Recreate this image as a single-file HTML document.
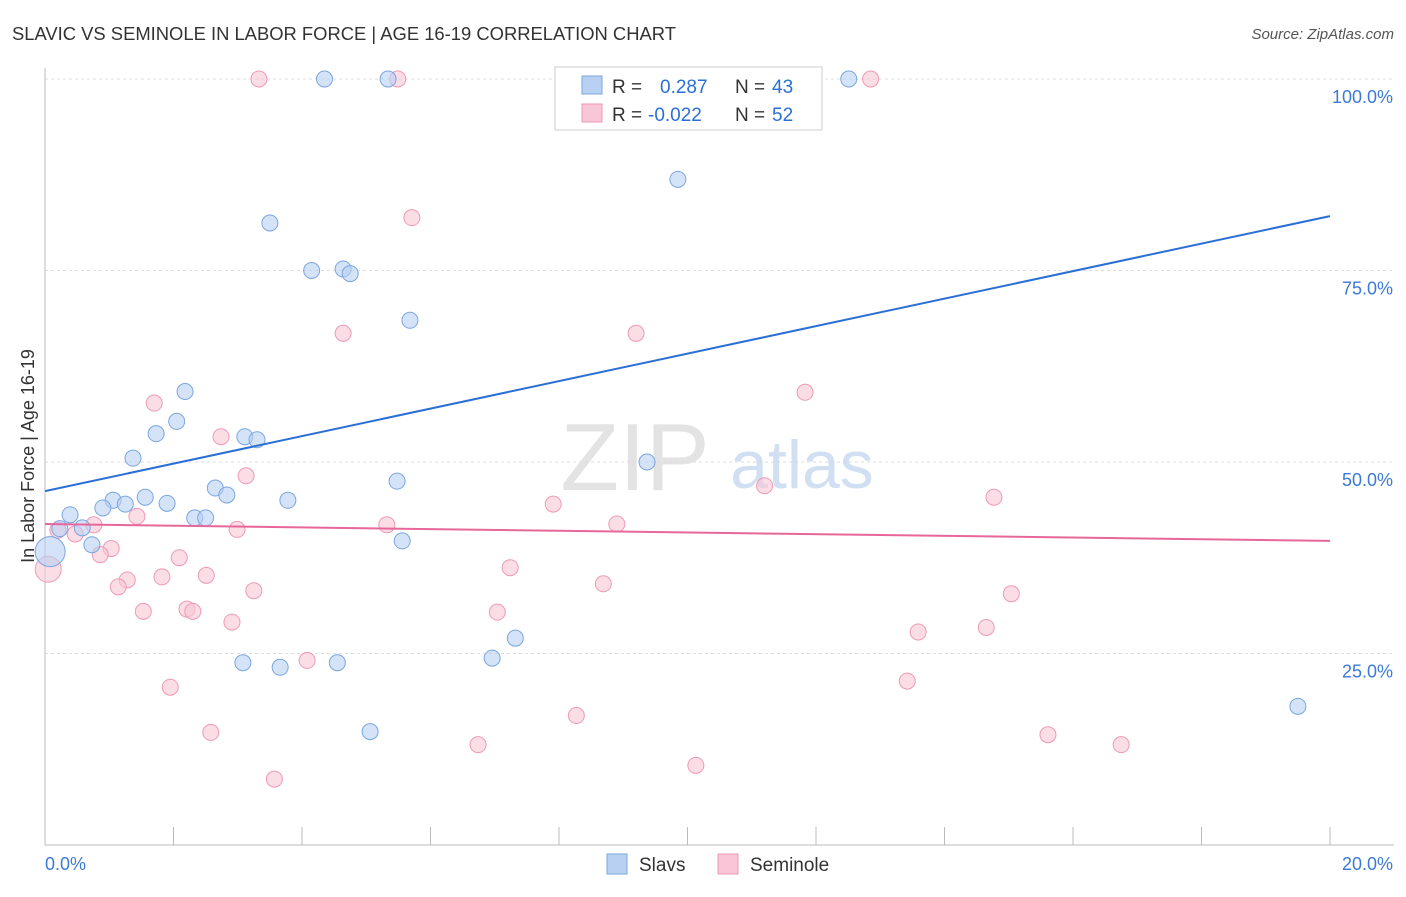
<!DOCTYPE html>
<html><head><meta charset="utf-8">
<style>
body{margin:0;background:#fff;font-family:"Liberation Sans",sans-serif;}
svg text{font-family:"Liberation Sans",sans-serif;}
</style></head>
<body>
<svg id="chart" width="1406" height="892" xmlns="http://www.w3.org/2000/svg">
<text x="12" y="40" font-size="18.4" fill="#333">SLAVIC VS SEMINOLE IN LABOR FORCE | AGE 16-19 CORRELATION CHART</text>
<text x="1394" y="39" font-size="15" fill="#555" text-anchor="end" font-style="italic">Source: ZipAtlas.com</text>
<text x="34" y="456" font-size="18" fill="#333" text-anchor="middle" transform="rotate(-90 34 456)">In Labor Force | Age 16-19</text>
<g id="grid"></g>
<g id="wm"><text x="635" y="490" font-size="96" fill="#ddd" text-anchor="middle" font-family="Liberation Serif" opacity="0.8">ZIP</text><text x="802" y="488" font-size="68" fill="#c5d8ef" text-anchor="middle" opacity="0.8">atlas</text></g>
<g id="marks"></g>
<g id="legend">
<rect x="555" y="67" width="267" height="63" fill="#fff" stroke="#ccc"/>
<rect x="582" y="76" width="20" height="18" fill="#b8d1f2" stroke="#7aa6e0"/>
<rect x="582" y="104" width="20" height="18" fill="#f8c6d6" stroke="#ee9ab6"/>
<text x="612" y="93" font-size="19" fill="#333">R = </text><text x="660" y="93" font-size="19" fill="#2a6fd6">0.287</text>
<text x="735" y="93" font-size="19" fill="#333">N = </text><text x="772" y="93" font-size="19" fill="#2a6fd6">43</text>
<text x="612" y="121" font-size="19" fill="#333">R = </text><text x="648" y="121" font-size="19" fill="#2a6fd6">-0.022</text>
<text x="735" y="121" font-size="19" fill="#333">N = </text><text x="772" y="121" font-size="19" fill="#2a6fd6">52</text>
</g>
<g>
<rect x="607" y="854" width="20" height="20" fill="#b8d1f2" stroke="#7aa6e0"/>
<text x="639" y="871" font-size="19" fill="#333">Slavs</text>
<rect x="718" y="854" width="20" height="20" fill="#f8c6d6" stroke="#ee9ab6"/>
<text x="750" y="871" font-size="19" fill="#333">Seminole</text>
</g>
</svg>
<script>
const yTicks=[25,50,75,100];
const yTickLabels=["25.0%","50.0%","75.0%","100.0%"];
const xTickLabels=["0.0%","20.0%"];
const slavX=[4.35,5.34,10.66,12.51,9.59,9.85,3.5,4.15,4.64,4.75,5.68,2.18,2.05,1.73,3.11,3.3,1.37,9.37,2.65,5.48,2.83,3.78,1.56,1.06,1.9,1.25,0.9,0.39,2.33,2.5,0.23,0.58,0.73,5.56,0.08,7.32,6.96,3.08,3.66,4.55,5.06,19.5];
const slavY=[100,100,100,100,100,86.9,81.2,75,75.2,74.6,68.5,59.2,55.3,53.7,53.3,52.9,50.5,50,46.6,47.5,45.7,45,45.4,45,44.6,44.5,44,43.1,42.7,42.7,41.3,41.4,39.2,39.7,38.3,27,24.4,23.8,23.2,23.8,14.8,18.1];
const semX=[3.33,5.49,12.85,5.71,4.64,9.2,11.83,1.7,2.74,3.13,11.2,7.91,14.77,1.43,0.76,0.2,0.47,5.32,8.9,2.99,1.03,0.86,2.09,1.28,1.82,2.51,1.14,8.69,3.25,7.24,15.04,1.53,2.21,2.3,7.04,2.91,13.59,14.65,4.08,1.95,13.42,8.27,2.58,15.61,6.74,16.75,10.13,3.57,0.05];
const semY=[100,100,100,81.9,66.8,66.8,59.1,57.7,53.3,48.2,46.9,44.5,45.4,42.9,41.8,41.1,40.6,41.8,41.9,41.2,38.7,37.9,37.5,34.6,35,35.2,33.7,34.1,33.2,36.2,32.8,30.5,30.8,30.5,30.4,29.1,27.8,28.4,24.1,20.6,21.4,16.9,14.7,14.4,13.1,13.1,10.4,8.6,36];
const slavBig=[0,0,0,0,0,0,0,0,0,0,0,0,0,0,0,0,0,0,0,0,0,0,0,0,0,0,0,0,0,0,0,0,0,0,1,0,0,0,0,0,0,0];
const slavTrend=[46.2,82.1];
const semTrend=[41.9,39.7];
const NS="http://www.w3.org/2000/svg";
const X0=45,X1=1330,Y0=845,Y100=79;
function xs(v){return X0+(X1-X0)*v/20;}
function ys(v){return Y0-(Y0-Y100)*v/100;}
const svg=document.getElementById('chart');
const grid=document.getElementById('grid');
const marks=document.getElementById('marks');
function mk(tag,attrs,parent){const e=document.createElementNS(NS,tag);for(const k in attrs)e.setAttribute(k,attrs[k]);parent.appendChild(e);return e;}
yTicks.forEach((t,i)=>{
 const l=mk('line',{x1:X0,x2:1394,y1:ys(t),y2:ys(t),stroke:'#ddd','stroke-dasharray':'3,3'},grid);
 
 
 const tx=mk('text',{x:1393,y:ys(t)+24,'font-size':18,fill:'#3b7ad8','text-anchor':'end'},grid);
 tx.textContent=yTickLabels[i];
 
 
});
const ax=mk('line',{x1:X0,x2:X0,y1:68,y2:Y0,stroke:'#bbb'},grid);


const bx=mk('line',{x1:X0,x2:1394,y1:Y0,y2:Y0,stroke:'#bbb'},grid);


for(let i=0;i<=10;i++){const t=mk('line',{x1:xs(i*2),x2:xs(i*2),y1:Y0,y2:Y0-18,stroke:'#bbb'},grid);
 
 }
[[0,'start',45],[20,'end',1393]].forEach((a,i)=>{const t=mk('text',{x:a[2],y:870,'font-size':18,fill:'#3b7ad8','text-anchor':a[1]},grid);t.textContent=xTickLabels[i];
 
 });
semX.forEach((x,i)=>{const r=(i==semX.length-1)?13:8;const c=mk('circle',{cx:xs(x),cy:ys(semY[i]),r:r,fill:'#f8c6d6','fill-opacity':0.6,stroke:'#ee9ab6'},marks);
 
 });
slavX.forEach((x,i)=>{const c=mk('circle',{cx:xs(x),cy:ys(slavY[i]),r:slavBig[i]?15:8,fill:'#b8d1f2','fill-opacity':0.6,stroke:'#7aa6e0'},marks);
 
 });
const l1=mk('line',{x1:xs(0),y1:ys(slavTrend[0]),x2:xs(20),y2:ys(slavTrend[1]),stroke:'#2a6fd6','stroke-width':2},marks);


const l2=mk('line',{x1:xs(0),y1:ys(semTrend[0]),x2:xs(20),y2:ys(semTrend[1]),stroke:'#e8679a','stroke-width':2},marks);


svg.appendChild(document.getElementById('legend'));
</script>
</body></html>
